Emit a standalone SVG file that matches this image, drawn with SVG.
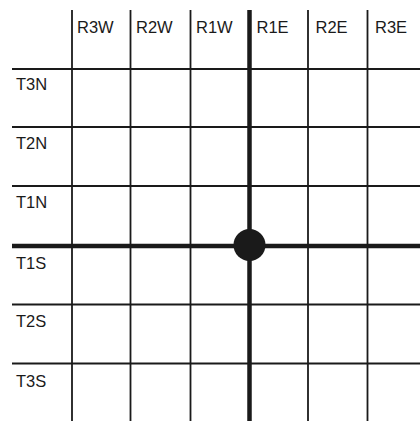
<svg xmlns="http://www.w3.org/2000/svg" width="420" height="421" viewBox="0 0 420 421">
<style>
.thin{stroke:#1a1a1a;stroke-width:1.8;fill:none}
.thick{stroke:#1a1a1a;stroke-width:4.5;fill:none}
.lbl{font-family:"Liberation Sans",Arial,sans-serif;font-size:16.5px;fill:#1a1a1a}
</style>
<rect width="420" height="421" fill="#ffffff"/>
<g id="grid">
<line class="thin" x1="12" y1="69" x2="420" y2="69"/>
<line class="thin" x1="12" y1="127" x2="420" y2="127"/>
<line class="thin" x1="12" y1="186" x2="420" y2="186"/>
<line class="thin" x1="12" y1="304.5" x2="420" y2="304.5"/>
<line class="thin" x1="12" y1="363.5" x2="420" y2="363.5"/>
<line class="thin" x1="72" y1="10" x2="72" y2="421"/>
<line class="thin" x1="130.5" y1="10" x2="130.5" y2="421"/>
<line class="thin" x1="190.5" y1="10" x2="190.5" y2="421"/>
<line class="thin" x1="308" y1="10" x2="308" y2="421"/>
<line class="thin" x1="367.5" y1="10" x2="367.5" y2="421"/>
<line class="thick" x1="12" y1="246" x2="420" y2="246"/>
<line class="thick" x1="249.5" y1="10" x2="249.5" y2="421"/>
</g>
<g id="origin">
<circle cx="249.5" cy="245" r="16" fill="#1a1a1a"/>
</g>
<g id="columns">
<text class="lbl" x="77" y="33">R3W</text>
<text class="lbl" x="136" y="33">R2W</text>
<text class="lbl" x="196" y="33">R1W</text>
<text class="lbl" x="256.5" y="33">R1E</text>
<text class="lbl" x="315.5" y="33">R2E</text>
<text class="lbl" x="375" y="33">R3E</text>
</g>
<g id="rows">
<text class="lbl" x="16" y="90">T3N</text>
<text class="lbl" x="16" y="149">T2N</text>
<text class="lbl" x="16" y="207.5">T1N</text>
<text class="lbl" x="16" y="269">T1S</text>
<text class="lbl" x="16" y="327">T2S</text>
<text class="lbl" x="16" y="386.5">T3S</text>
</g>
</svg>
